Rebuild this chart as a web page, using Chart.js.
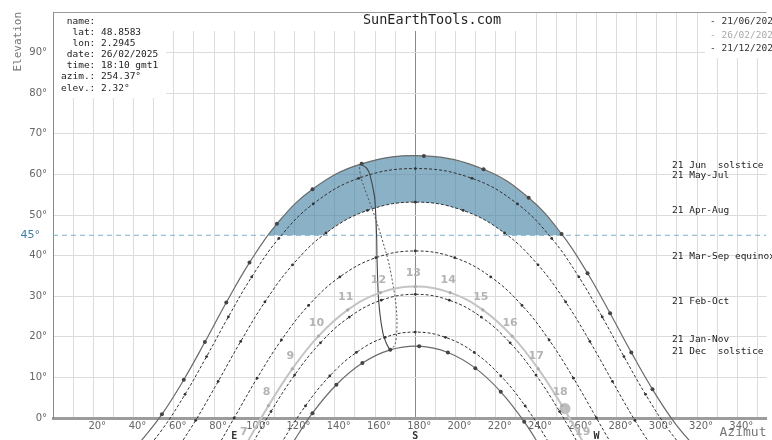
<!DOCTYPE html>
<html><head><meta charset="utf-8">
<script src="https://cdn.jsdelivr.net/npm/chart.js@4.4.1/dist/chart.umd.min.js"></script>
<style>html,body{margin:0;padding:0;background:#fff;}#wrap{width:772px;height:440px;}</style>
</head><body><div id="wrap"><canvas id="c" width="772" height="440"></canvas></div>
<script>
// ---- data: [azimuth°, elevation°] ----
const juneSolstice = [[42.47,-6.45],[54.11,0.91],[64.98,9.42],[75.47,18.70],[86.10,28.43],[97.63,38.28],[111.25,47.83],[128.94,56.37],[153.35,62.60],[184.27,64.56],[213.93,61.27],[236.33,54.25],[252.68,45.34],[265.59,35.66],[276.79,25.81],[287.32,16.16],[297.86,7.06],[308.90,-1.18],[320.79,-8.18]];
const mayJul = [[42.34,-10.10],[54.41,-2.72],[65.59,5.82],[76.32,15.14],[87.12,24.90],[98.73,34.74],[112.22,44.24],[129.25,52.73],[151.85,59.04],[180,61.44],[208.15,59.04],[230.75,52.73],[247.78,44.24],[261.27,34.74],[272.88,24.90],[283.68,15.14],[294.41,5.82],[305.59,-2.72],[317.66,-10.10]];
const aprAug = [[59.20,-9.52],[70.89,-0.58],[82.04,9.01],[93.26,18.85],[105.28,28.58],[119.03,37.72],[135.68,45.57],[156.22,51.12],[180,53.17],[203.78,51.12],[224.32,45.57],[240.97,37.72],[254.72,28.58],[266.74,18.85],[277.96,9.01],[289.11,-0.58],[300.80,-9.52]];
const marSepEquinox = [[78.60,-9.81],[90,0],[101.40,9.81],[113.49,19.21],[126.97,27.74],[142.52,34.75],[160.41,39.48],[180,41.14],[199.59,39.48],[217.48,34.75],[233.03,27.74],[246.51,19.21],[258.60,9.81],[270,0],[281.40,-9.81]];
const febOct = [[97.09,-8.04],[108.29,1.58],[120.04,10.58],[132.88,18.51],[147.22,24.86],[163.09,29.01],[180,30.46],[196.91,29.01],[212.78,24.86],[227.12,18.51],[239.96,10.58],[251.71,1.58],[262.91,-8.04]];
const today26Feb = [[95.82,-6.61],[107.08,3.05],[118.91,12.12],[131.89,20.17],[146.45,26.63],[162.66,30.87],[180,32.36],[197.34,30.87],[213.55,26.63],[228.11,20.17],[241.09,12.12],[252.92,3.05],[264.18,-6.61]];
const todayHours = ['7','8','9','10','11','12','13','14','15','16','17','18','19'];
const janNov = [[103.47,-14.92],[114.22,-5.59],[125.42,2.97],[137.51,10.36],[150.72,16.15],[165.01,19.87],[180,21.16],[194.99,19.87],[209.28,16.15],[222.49,10.36],[234.58,2.97],[245.78,-5.59],[256.53,-14.92]];
const decSolstice = [[117.86,-7.06],[128.90,1.18],[140.79,8.18],[153.71,13.52],[167.55,16.79],[181.93,17.70],[196.21,16.14],[209.84,12.28],[222.47,6.45],[234.11,-0.91],[244.98,-9.42]];
const analemmaDecToJun = [[168.23,16.89],[166.93,17.14],[164.52,19.79],[163.37,22.43],[162.54,25.24],[161.84,28.68],[161.48,31.68],[160.95,39.78],[160.84,43.96],[160.20,51.66],[159.67,54.77],[157.49,59.83],[155.91,61.47],[153.10,62.56]];
const analemmaJunToDec = [[153.10,62.56],[152.31,62.08],[152.92,59.43],[154.44,57.06],[158.41,51.69],[160.98,48.08],[165.39,40.84],[167.19,37.41],[169.97,29.75],[170.84,25.11],[170.75,20.77],[169.95,18.17],[168.23,16.89]];
const sunNow = [[254.37, 2.32]];
const thresholdElevation = 45;
const azimuthRange = [0, 354.5];
const azimuthTicks = [0,10,20,30,40,50,60,70,80,90,100,110,120,130,140,150,160,170,180,190,200,210,220,230,240,250,260,270,280,290,300,310,320,330,340,350];
const elevationTicks = [0,10,20,30,40,50,60,70,80,90,100];
const infoLines = [' name:', '  lat: 48.8583', '  lon: 2.2945', ' date: 26/02/2025', ' time: 18:10 gmt1', 'azim.: 254.37°', 'elev.: 2.32°'];
const legendLines = ['- 21/06/2025', '- 26/02/2025', '- 21/12/2025'];
const curveNames = ['21 Jun  solstice','21 May-Jul','21 Apr-Aug','21 Mar-Sep equinox','21 Feb-Oct','21 Jan-Nov','21 Dec  solstice'];
const compassLabels = [[90,'E'],[180,'S'],[270,'W']];

const toXY = a => a.map(([x, y]) => ({x, y}));
const MONO = 'DejaVu Sans Mono';
const SANS = 'DejaVu Sans';

const solid = (data, extra) => Object.assign({data: toXY(data), borderColor:'#6a6a6a', borderWidth:1.2, pointRadius:2, pointBackgroundColor:'#444', pointBorderWidth:0, tension:0.4, fill:false}, extra||{});
const dotted = (data) => ({data: toXY(data), borderColor:'#333', borderWidth:1, borderDash:[3,2], pointRadius:1.4, pointBackgroundColor:'#333', pointBorderWidth:0, tension:0.4, fill:false});

const FILL_INDEX = 0;
const datasets = [
  {data: toXY(juneSolstice), borderColor:'rgba(0,0,0,0)', borderWidth:0, pointRadius:0, tension:0.4, fill:{target:3}, backgroundColor:'rgba(60,125,160,0.6)', order:10},
  solid(juneSolstice),
  dotted(mayJul),
  dotted(aprAug),
  dotted(marSepEquinox),
  dotted(febOct),
  {data: toXY(today26Feb), borderColor:'#c4c4c4', borderWidth:2, pointRadius:1.6, pointBackgroundColor:'#aaa', pointBorderWidth:0, tension:0.4, fill:false},
  dotted(janNov),
  solid(decSolstice),
  {data: toXY(analemmaDecToJun), borderColor:'#444', borderWidth:1.1, pointRadius:0, tension:0.3, fill:false},
  {data: toXY(analemmaJunToDec), borderColor:'#555', borderWidth:1, borderDash:[2,2], pointRadius:0, tension:0.3, fill:false},
  {data: azimuthRange.map(x => ({x, y: thresholdElevation})), borderColor:'#7fb2d0', borderWidth:1, borderDash:[5,4], pointRadius:0, fill:false},
  {data: toXY(sunNow), showLine:false, pointRadius:5.5, pointBackgroundColor:'#bdbdbd', pointBorderWidth:0}
];
datasets.forEach((d, i) => { if (i !== FILL_INDEX) { d.order = 0; } d.clip = {left:0, top:0, right:0, bottom:30}; });
datasets[FILL_INDEX].clip = 0;

const decor = {
  id: 'decor',
  beforeDatasetsDraw(chart) {
    const {ctx, chartArea: a, scales: {y}} = chart;
    ctx.save();
    ctx.fillStyle = '#fff';
    ctx.fillRect(a.left + 1, a.top + 1, 520 - a.left, 18);
    ctx.fillRect(a.left + 1, a.top + 1, 112, 85);
    ctx.fillRect(705, a.top + 1, a.right - 705, 45);
    ctx.restore();
    ctx.save();
    ctx.beginPath();
    ctx.rect(a.left, a.top, a.right - a.left, y.getPixelForValue(thresholdElevation) - a.top);
    ctx.clip();
  },
  afterDatasetDraw(chart, args) {
    if (args.index === FILL_INDEX) chart.ctx.restore();
  },
  afterDraw(chart) {
    const {ctx, chartArea: a, scales: {x, y}} = chart;
    ctx.save();
    ctx.textBaseline = 'middle';
    ctx.fillStyle = '#222';
    ctx.font = '13.5px "' + MONO + '"';
    ctx.textAlign = 'center';
    ctx.fillText('SunEarthTools.com', 432, 20);
    ctx.textAlign = 'left';
    ctx.font = '9.5px "' + MONO + '"';
    infoLines.forEach((t, i) => ctx.fillText(t, 61, 21.5 + i * 11.1));
    const legColors = ['#333', '#aaa', '#333'];
    legendLines.forEach((t, i) => { ctx.fillStyle = legColors[i]; ctx.fillText(t, 710, 21.5 + i * 13.6); });
    ctx.fillStyle = '#222';
    const nameEl = [62.3, 59.7, 51.2, 39.7, 28.7, 19.4, 16.4];
    curveNames.forEach((t, i) => ctx.fillText(t, 672, y.getPixelForValue(nameEl[i])));
    ctx.fillStyle = '#3f7ea6';
    ctx.font = '11px "' + SANS + '"';
    ctx.textAlign = 'right';
    ctx.fillText('45°', 40, y.getPixelForValue(thresholdElevation));
    ctx.textAlign = 'center';
    ctx.fillStyle = '#333';
    ctx.font = 'bold 10px "' + MONO + '"';
    compassLabels.forEach(([v, t]) => ctx.fillText(t, x.getPixelForValue(v), 436));
    const meta = chart.getDatasetMeta(6);
    ctx.fillStyle = '#b4b4b4';
    ctx.font = '600 11px "' + SANS + '"';
    meta.data.forEach((p, i) => ctx.fillText(todayHours[i], p.x - 2, p.y - 13));
    ctx.restore();
  }
};

new Chart(document.getElementById('c'), {
  type: 'line',
  data: {datasets},
  plugins: [decor],
  options: {
    responsive: false,
    animation: false,
    layout: {padding: {top: 10, left: 0, right: 0, bottom: 0}},
    elements: {line: {capBezierPoints: false}},
    plugins: {legend: {display: false}, tooltip: {enabled: false}},
    scales: {
      x: {
        type: 'linear', min: azimuthRange[0], max: azimuthRange[1],
        afterBuildTicks: s => { s.ticks = azimuthTicks.map(v => ({value: v})); },
        afterFit: s => { s.height = 22; },
        ticks: {
          autoSkip: false, maxRotation: 0, padding: 2, labelOffset: 4,
          color: '#666', font: {family: SANS, size: 10, lineHeight: 1.2},
          callback: v => (v > 0 && v % 20 === 0) ? v + '°' : ''
        },
        grid: {drawTicks: false, color: c => (c.tick && c.tick.value === 180) ? '#8a8a8a' : '#dcdcdc', lineWidth: 1},
        border: {color: '#9c9c9c', width: 3},
        title: {display: true, text: 'Azimut', align: 'end', color: '#777', font: {family: MONO, size: 13}, padding: {top: 0, bottom: 0}}
      },
      y: {
        type: 'linear', min: 0, max: 100,
        afterBuildTicks: s => { s.ticks = elevationTicks.map(v => ({value: v})); },
        afterFit: s => { s.width = 53; },
        ticks: {
          padding: 6, color: '#666', font: {family: SANS, size: 10},
          callback: v => v === 100 ? '' : v + '°'
        },
        grid: {drawTicks: false, color: c => (c.tick && c.tick.value === 100) ? '#999' : '#dcdcdc', lineWidth: 1},
        border: {color: '#8a8a8a', width: 1},
        title: {display: true, text: 'Elevation', align: 'end', color: '#777', font: {family: MONO, size: 11}, padding: {top: 12, bottom: 0}}
      }
    }
  }
});
</script>
</body></html>
